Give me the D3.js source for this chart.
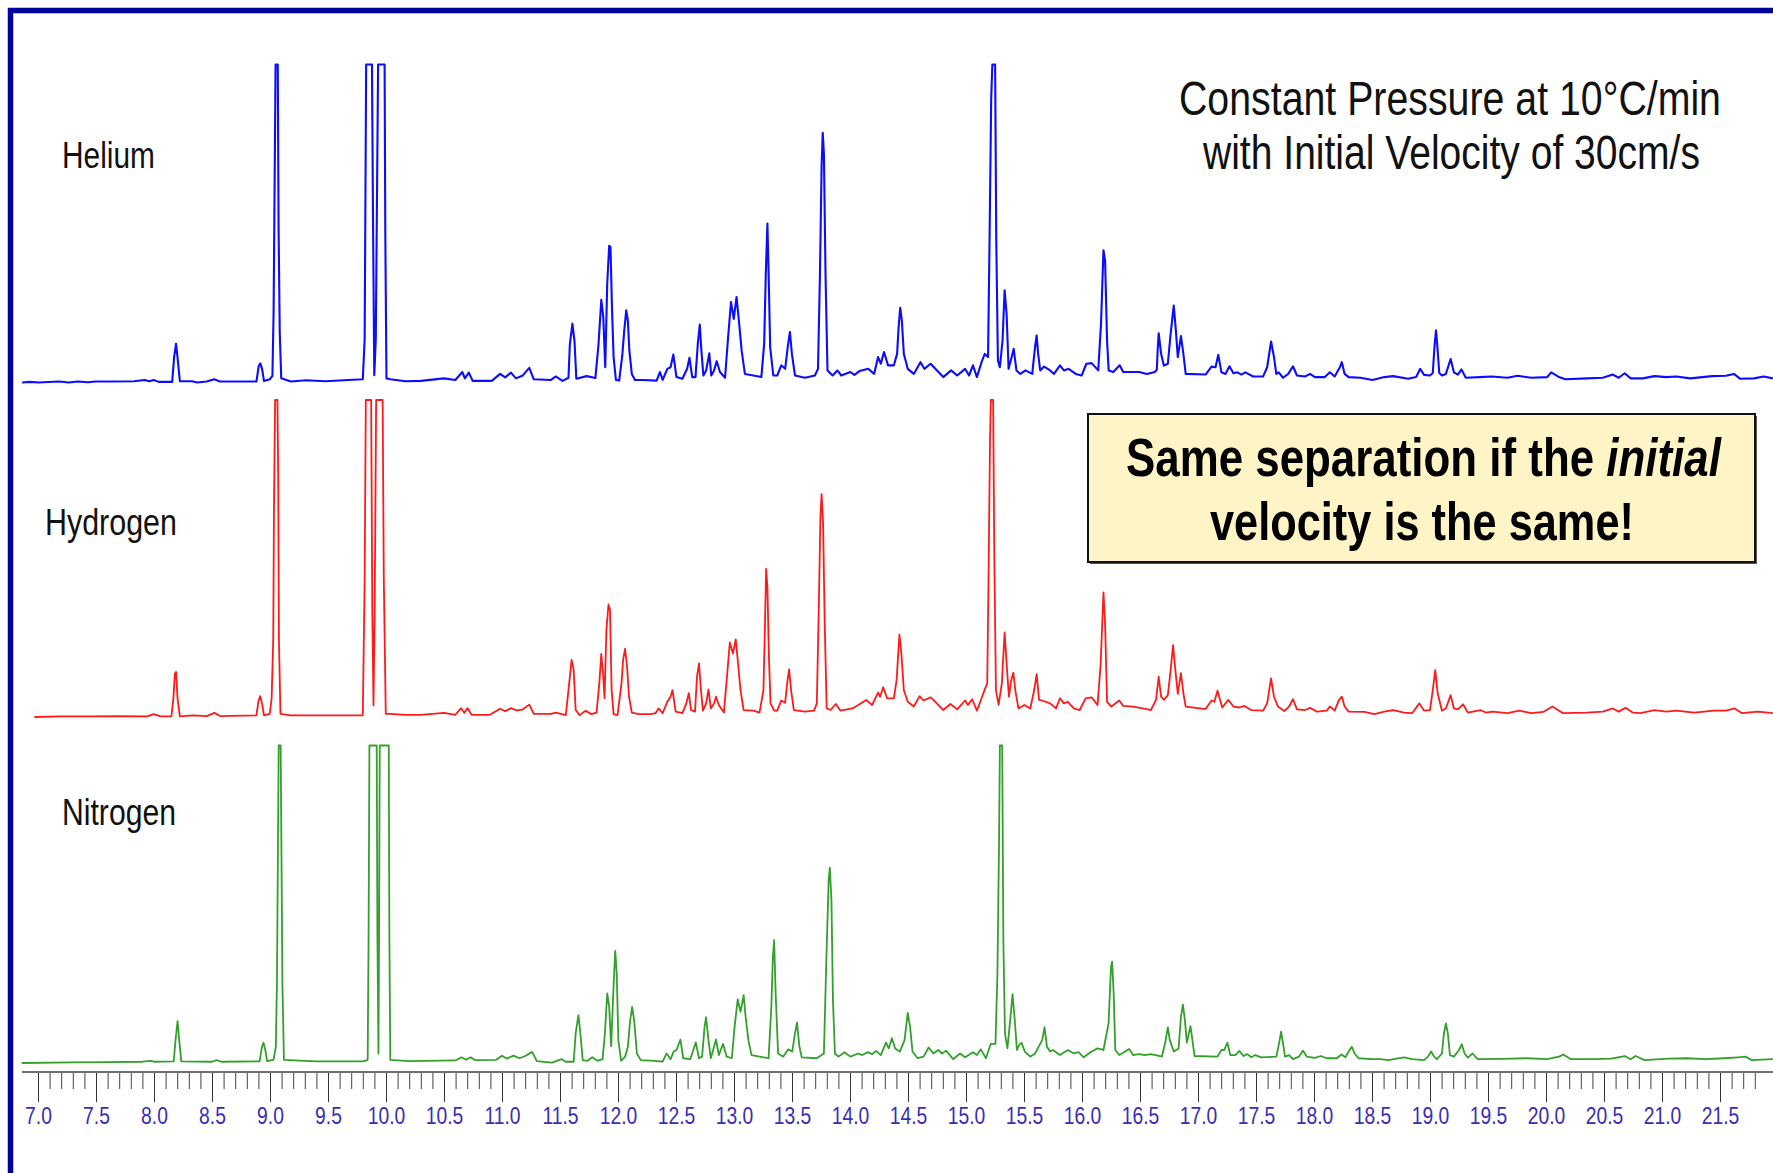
<!DOCTYPE html>
<html>
<head>
<meta charset="utf-8">
<script src="https://cdn.jsdelivr.net/npm/d3@7"></script>
<style>
  html, body { margin: 0; padding: 0; background: #fff; }
  svg { display: block; }
  text { font-family: "Liberation Sans Narrow", "Arial Narrow", "Liberation Sans", Arial, sans-serif; }
</style>
</head>
<body>
<div id="chart"></div>
<script>
// retention time (min), detector response (% of the clipped full scale)
const heliumTrace = [
  [6.863,0],[6.93,0.2],[7.002,0],[7.183,0.3],[7.266,0],[7.342,0.3],[7.431,0.1],[7.497,0.3],[7.662,0.3],[7.827,0.4],[7.919,0.8],[7.959,0.4],[7.998,0.8],[8.041,0.2],
  [8.157,0.2],[8.173,7.8],[8.19,12.2],[8.203,7.8],[8.223,0.4],[8.328,0.4],[8.371,0],[8.454,0.3],[8.52,1],[8.569,0.3],
  [8.883,0.3],[8.903,5.2],[8.916,6],[8.932,4.2],[8.948,0.5],[8.998,1],[9.021,2.1],[9.031,22],[9.041,68],[9.048,100],[9.067,100],[9.074,48.7],[9.084,15.7],[9.097,1.3],
  [9.18,0.3],[9.311,0.7],[9.476,0.4],[9.8,1],[9.816,13.6],[9.829,100],[9.879,100],[9.889,47],[9.899,2.3],[9.912,13.6],[9.932,100],[9.988,100],[9.994,47],[10.004,1.3],
  [10.037,1],[10.169,0.4],[10.301,0.5],[10.5,1.3],[10.598,0.8],[10.658,3.3],[10.68,1.3],[10.714,3.1],[10.747,0.5],[10.912,0.5],[10.984,2.7],[11.027,1.6],[11.077,3.1],
  [11.12,1.3],[11.175,2.1],[11.235,4.6],[11.274,1],[11.423,0.8],[11.463,1.9],[11.522,0.5],[11.573,1.5],[11.585,12],[11.607,18.5],[11.625,13],[11.641,1.2],
  [11.73,2],[11.805,1.4],[11.832,12],[11.856,26],[11.873,20.6],[11.89,4.8],[11.907,31],[11.924,43],[11.935,42.6],[11.948,23.7],[11.962,8],[11.982,0.8],
  [12.01,0.6],[12.037,8.5],[12.054,16.4],[12.071,22.7],[12.085,19.5],[12.098,10],[12.119,2.7],[12.146,0.8],[12.214,0.8],[12.333,0.6],[12.361,3.3],[12.385,0.8],
  [12.425,4.3],[12.453,4.8],[12.477,8.8],[12.504,1.7],[12.555,1.2],[12.596,4.3],[12.616,7.8],[12.64,1.7],[12.668,1.7],[12.688,12.2],[12.705,18.2],[12.719,10],
  [12.736,2.2],[12.76,3.8],[12.787,9.2],[12.804,2.2],[12.828,3.8],[12.851,6.7],[12.879,3.3],[12.923,1.5],[12.947,13.2],[12.974,25.3],[12.998,20],[13.022,26.9],
  [13.042,19.5],[13.066,10],[13.094,2.7],[13.168,2.2],[13.236,1.7],[13.26,12.2],[13.274,34],[13.288,50],[13.298,35],[13.312,11],[13.339,2.2],[13.373,2.2],
  [13.407,5.4],[13.441,4.3],[13.465,11.7],[13.482,15.9],[13.499,9],[13.526,2.2],[13.612,1.5],[13.697,2.2],[13.724,4.3],[13.741,34],[13.755,67.8],[13.765,78.5],
  [13.775,72],[13.789,34],[13.806,3.8],[13.85,2.2],[13.891,3.8],[13.925,2.2],[14.003,3.3],[14.038,2.4],[14.082,3.6],[14.157,4.3],[14.208,2.7],[14.242,8],
  [14.266,5.9],[14.293,9.6],[14.328,5.4],[14.378,5.4],[14.406,9],[14.419,17.4],[14.433,23.5],[14.447,19.5],[14.464,9],[14.498,4.3],[14.55,2.7],[14.607,6.4],
  [14.641,4.3],[14.695,5.9],[14.736,4.3],[14.804,1.7],[14.872,3.8],[14.924,2.2],[14.992,4.3],[15.026,2.2],[15.06,5.4],[15.094,1.7],[15.139,6.9],[15.162,9],
  [15.19,8],[15.203,44.7],[15.217,88.8],[15.227,100],[15.251,100],[15.261,44.7],[15.275,6.9],[15.292,4.8],[15.315,13.2],[15.333,29],[15.35,21.6],[15.367,4.3],
  [15.394,8],[15.411,10.6],[15.435,3.8],[15.469,2.7],[15.513,3.8],[15.571,2.7],[15.595,11.1],[15.609,14.8],[15.622,9],[15.64,3.8],[15.673,5],[15.725,3.8],
  [15.759,2.7],[15.81,5.4],[15.844,3.8],[15.885,4.3],[15.946,2.7],[15.997,2.2],[16.038,5.9],[16.083,6.1],[16.14,3.8],[16.164,18.5],[16.185,41.6],[16.199,38.4],
  [16.216,13.2],[16.23,3.8],[16.27,3.3],[16.325,5.4],[16.355,3.3],[16.423,3.3],[16.492,3.3],[16.56,2.7],[16.628,3.3],[16.645,4],[16.652,10],[16.661,15.5],
  [16.682,9],[16.706,5.3],[16.74,5.9],[16.764,15.3],[16.791,24.2],[16.809,16.4],[16.826,8],[16.853,14.6],[16.874,9],[16.894,2.7],[17.065,2.5],[17.117,5],
  [17.151,4.8],[17.175,8.7],[17.202,3.2],[17.237,2.7],[17.271,5.1],[17.305,2.9],[17.339,3.2],[17.374,2.5],[17.408,3.2],[17.476,1.9],[17.562,1.9],[17.596,4.8],
  [17.63,12.9],[17.655,8],[17.675,2.7],[17.695,3.2],[17.733,1.5],[17.778,2.7],[17.819,5.1],[17.853,2.2],[17.922,1.9],[17.966,2.7],[18.007,1.7],[18.093,1.7],
  [18.137,3.2],[18.178,1.9],[18.223,4.8],[18.24,6.4],[18.264,2.7],[18.298,1.7],[18.401,1.5],[18.504,0.8],[18.606,1.7],[18.682,2],[18.812,1.2],[18.88,1.7],
  [18.915,4.3],[18.949,2.4],[19.0,2.2],[19.024,3],[19.04,12],[19.052,16.4],[19.062,12],[19.08,3],[19.103,2.2],[19.137,2.7],[19.178,7.4],[19.206,3.2],
  [19.24,2.5],[19.271,4.1],[19.309,1.5],[19.428,1.7],[19.531,1.9],[19.668,1.5],[19.754,2.1],[19.874,1.5],[20.01,1.7],[20.045,3.2],[20.113,1.7],[20.165,1],
  [20.353,1.3],[20.49,1.5],[20.576,2.5],[20.627,1.5],[20.678,2.9],[20.73,1.3],[20.833,1.3],[20.935,2],[21.038,1.7],[21.124,1.9],[21.244,1.3],[21.432,2],
  [21.552,2.1],[21.62,2.7],[21.672,1.2],[21.792,1.3],[21.877,1.9],[21.956,1.3]
];

const hydrogenTrace = [
  [6.969,0],[7.2,0.2],[7.464,0.2],[7.695,0.3],[7.942,0.2],[7.998,0.9],[8.058,0.2],[8.15,0.2],[8.167,5.8],[8.18,13.7],[8.19,14.2],[8.203,5.8],[8.223,0.2],
  [8.338,0.5],[8.454,0.3],[8.52,1.3],[8.569,0.3],[8.883,0.5],[8.899,4.7],[8.915,6.6],[8.932,4.2],[8.948,0.5],[8.998,1],[9.014,5.8],[9.028,24.7],[9.034,64.6],
  [9.044,100],[9.064,100],[9.071,75],[9.077,24.7],[9.09,1],[9.18,0.5],[9.311,0.5],[9.476,0.5],[9.8,0.5],[9.816,43.6],[9.826,100],[9.872,100],[9.882,33],
  [9.892,3.7],[9.902,33],[9.915,100],[9.971,100],[9.981,43.6],[9.998,1],[10.037,1],[10.169,0.7],[10.3,0.7],[10.5,1.3],[10.598,0.7],[10.648,2.8],[10.674,1.3],
  [10.704,2.8],[10.737,0.7],[10.895,0.7],[10.984,2.6],[11.027,1.8],[11.077,2.8],[11.126,2.1],[11.175,2.3],[11.235,3.9],[11.274,1],[11.423,1],[11.464,1.4],
  [11.55,0.6],[11.573,8.5],[11.6,18],[11.618,14.8],[11.635,2.2],[11.669,0.6],[11.72,2],[11.771,0.9],[11.815,1.4],[11.839,10.6],[11.856,19.9],[11.873,12.7],
  [11.884,5.9],[11.9,27.4],[11.918,35.5],[11.931,33.8],[11.945,8.5],[11.962,0.9],[11.996,0.6],[12.03,10.6],[12.044,18],[12.061,21.5],[12.078,15.9],[12.095,6.4],
  [12.119,1.4],[12.18,0.9],[12.282,0.9],[12.323,1.2],[12.35,2.7],[12.385,1.2],[12.425,4.8],[12.453,6.4],[12.47,8.5],[12.497,1.7],[12.555,1.2],[12.589,4.3],
  [12.61,7.5],[12.63,2.2],[12.664,1.7],[12.681,12.7],[12.698,16.9],[12.715,8.5],[12.732,2],[12.76,4.3],[12.78,8.7],[12.8,2.7],[12.828,4.3],[12.845,6.4],
  [12.869,3.8],[12.913,1.4],[12.937,11.7],[12.964,23.5],[12.991,20],[13.015,24.5],[13.032,18],[13.056,8.5],[13.083,2.2],[13.168,2],[13.22,1.4],[13.254,8.5],
  [13.267,29.5],[13.277,46.7],[13.288,41],[13.301,19],[13.315,4.3],[13.346,2],[13.373,2],[13.407,5.2],[13.441,4.5],[13.458,10.6],[13.475,15],[13.492,8.5],
  [13.516,2.2],[13.612,1.7],[13.69,2],[13.714,4.3],[13.731,34.8],[13.745,63.2],[13.755,70.3],[13.768,61],[13.782,29.5],[13.799,2.7],[13.833,2.2],[13.877,4.1],
  [13.918,2],[14.021,2.7],[14.072,3.8],[14.14,5.4],[14.191,3.8],[14.242,7.7],[14.259,6.4],[14.286,9.4],[14.32,5.9],[14.378,5.9],[14.402,11.7],[14.426,26],
  [14.443,20],[14.464,8.5],[14.498,4.8],[14.55,3.3],[14.6,6.6],[14.634,5.2],[14.695,6.2],[14.736,4.8],[14.804,2.2],[14.866,4.1],[14.924,2.4],[14.992,5.2],
  [15.016,3.8],[15.053,5.6],[15.094,2],[15.139,6.4],[15.162,8.7],[15.183,10.6],[15.193,40],[15.207,87.4],[15.214,100],[15.234,100],[15.244,50.6],[15.258,8.5],
  [15.281,3.8],[15.309,10.6],[15.333,26.7],[15.35,16.9],[15.37,6.4],[15.39,11.7],[15.408,14],[15.425,8.5],[15.452,2.7],[15.503,3.8],[15.554,2.7],[15.588,8.5],
  [15.609,13.5],[15.63,5.4],[15.657,5.2],[15.725,4.3],[15.776,2.7],[15.81,5.9],[15.844,4.3],[15.878,4.8],[15.929,2.7],[15.98,2.2],[16.031,5.9],[16.083,6.2],
  [16.134,3.8],[16.161,16.9],[16.185,39.3],[16.199,29.5],[16.216,4.8],[16.253,3.3],[16.321,5.2],[16.355,3.5],[16.44,3.3],[16.526,2.7],[16.594,2.2],[16.638,5.4],
  [16.661,12.7],[16.682,6.4],[16.706,5.4],[16.74,6.9],[16.764,14.8],[16.785,22.7],[16.805,14.8],[16.826,7.3],[16.853,13.8],[16.874,7.5],[16.894,3.3],[17.065,2.5],
  [17.117,5.2],[17.141,4.8],[17.168,8.3],[17.209,3],[17.261,5.4],[17.305,3.3],[17.357,3],[17.401,3.5],[17.459,2.2],[17.562,2],[17.596,4.3],[17.63,12.2],
  [17.655,6.4],[17.689,3.3],[17.744,1.9],[17.785,3.3],[17.819,5.6],[17.853,2.4],[17.922,2.2],[17.966,2.9],[18.024,1.7],[18.11,2],[18.137,3.3],[18.178,2],
  [18.216,5.4],[18.24,6.4],[18.264,3.3],[18.298,1.7],[18.435,1.6],[18.521,0.9],[18.606,1.7],[18.682,2.2],[18.777,1.4],[18.846,1.2],[18.908,4.3],[18.949,2],
  [19.0,2.2],[19.024,8.5],[19.045,14.8],[19.066,7.5],[19.103,2],[19.137,2.7],[19.178,6.9],[19.206,2.7],[19.24,2.4],[19.285,4],[19.326,1.4],[19.435,2.2],
  [19.48,1.4],[19.538,1.7],[19.668,1.2],[19.771,2],[19.874,1.2],[19.976,1.6],[20.055,3.3],[20.148,1.2],[20.353,1.4],[20.49,1.7],[20.576,2.7],[20.627,1.7],
  [20.686,2.9],[20.747,1.4],[20.815,1.2],[20.935,2.2],[21.038,1.7],[21.124,2],[21.278,1.4],[21.449,2],[21.552,2],[21.627,2.7],[21.689,1.2],[21.826,1.7],
  [21.956,1.2]
];

const nitrogenTrace = [
  [6.86,0],[7.3,0.2],[7.6,0.3],[7.9,0.4],[7.969,0.7],[8.0,0.4],[8.17,0.5],[8.185,7],[8.203,13.2],[8.218,7],[8.235,0.5],[8.5,0.4],[8.54,0.9],[8.58,0.4],
  [8.91,0.5],[8.93,5],[8.944,6.4],[8.96,4],[8.975,0.6],[9.03,1],[9.05,5],[9.06,25],[9.068,65],[9.075,100],[9.092,100],[9.099,65],[9.107,25],[9.12,1],
  [9.4,0.5],[9.8,0.5],[9.842,1],[9.85,40],[9.857,100],[9.92,100],[9.926,40],[9.935,3],[9.94,40],[9.946,100],[10.024,100],[10.029,40],[10.037,1],
  [10.2,0.6],[10.6,0.8],[10.65,1.8],[10.69,1],[10.73,1.8],[10.77,0.9],[10.95,1],[11.0,2.3],[11.04,1.4],[11.1,2.3],[11.15,1.5],[11.2,2.2],[11.26,3.5],[11.3,0.6],
  [11.43,0.1],[11.515,1.2],[11.55,0.4],[11.618,0.4],[11.635,9.3],[11.659,15.1],[11.676,9.3],[11.696,0.9],[11.737,0.7],[11.778,1.8],[11.822,0.7],[11.867,1.2],
  [11.887,9.3],[11.907,21.9],[11.924,17.7],[11.941,5.3],[11.959,21.9],[11.976,35.3],[11.989,28.2],[12.003,7.2],[12.027,0.7],[12.061,2],[12.085,5.1],[12.105,13.5],
  [12.122,17.7],[12.139,13.5],[12.163,3],[12.197,0.9],[12.316,0.7],[12.385,0.4],[12.419,3],[12.453,1.2],[12.48,3.6],[12.504,4.1],[12.538,7.4],[12.562,1.5],
  [12.623,1.2],[12.671,6.5],[12.698,1.5],[12.725,2],[12.746,11.4],[12.759,14.4],[12.78,7.2],[12.8,1.5],[12.828,5.1],[12.845,7.4],[12.869,2.5],[12.906,6],
  [12.937,2],[12.981,1.5],[13.005,11.4],[13.032,20],[13.056,16.1],[13.083,21.4],[13.1,14.6],[13.124,7.2],[13.151,2.5],[13.22,2],[13.298,1.5],[13.322,17.7],
  [13.335,33.4],[13.346,38.7],[13.359,21.9],[13.38,3],[13.424,2],[13.468,4.3],[13.502,3.6],[13.526,9.3],[13.543,12.7],[13.564,5.1],[13.584,1.8],[13.714,1.5],
  [13.775,3],[13.796,32.4],[13.816,57.5],[13.826,61.5],[13.84,51.3],[13.853,19.8],[13.87,3],[13.901,2],[13.952,3.4],[14.003,2],[14.072,3],[14.106,2.5],
  [14.15,3.4],[14.191,2.8],[14.225,3.8],[14.266,2.5],[14.31,6.4],[14.334,4.6],[14.361,7.8],[14.389,4.6],[14.43,3.6],[14.47,7.2],[14.498,15.8],[14.518,11.4],
  [14.539,3.6],[14.583,1.5],[14.634,2],[14.678,4.9],[14.719,3],[14.76,4.1],[14.794,3],[14.828,3.9],[14.89,1.2],[14.948,3],[14.992,1.8],[15.06,3.4],
  [15.094,2.5],[15.128,4.3],[15.172,1.5],[15.213,6],[15.254,6],[15.271,28.2],[15.285,70],[15.292,100],[15.312,100],[15.322,38.7],[15.336,9.3],[15.357,4.6],
  [15.384,14.6],[15.401,21.7],[15.418,14.6],[15.439,4.1],[15.459,5.7],[15.479,6.4],[15.507,3.6],[15.554,2],[15.595,3],[15.657,7.2],[15.677,11.2],[15.698,5.1],
  [15.725,3.6],[15.749,4.1],[15.81,2.5],[15.878,4.1],[15.929,3],[15.97,3.4],[16.014,1.8],[16.083,3.6],[16.134,4.6],[16.185,4.1],[16.229,12.5],[16.25,30.3],
  [16.26,31.9],[16.273,21.9],[16.287,4.1],[16.321,2.5],[16.355,3.2],[16.406,4.4],[16.44,2.5],[16.492,2.8],[16.543,2.5],[16.594,2.8],[16.672,2.2],[16.689,2],
  [16.716,6.2],[16.74,11.2],[16.757,7.2],[16.791,3.6],[16.833,4.6],[16.853,14.6],[16.87,18.4],[16.887,13.5],[16.904,6.4],[16.935,11.6],[16.952,7.2],[16.97,2.2],
  [17.168,2],[17.202,4.1],[17.226,4.1],[17.254,6.4],[17.278,2.5],[17.322,2.5],[17.357,3.8],[17.391,2.2],[17.425,2.8],[17.459,1.8],[17.494,2.5],[17.545,1.8],
  [17.675,2],[17.699,6.2],[17.716,9.9],[17.733,6.2],[17.75,2],[17.785,2.5],[17.819,1.2],[17.87,2],[17.904,3.9],[17.939,2],[18.007,1.6],[18.059,2.2],
  [18.11,1.5],[18.196,1.5],[18.237,2.7],[18.271,1.8],[18.298,3.6],[18.326,5.1],[18.35,3],[18.384,1.5],[18.504,1.2],[18.572,1.2],[18.641,0.9],[18.709,1.4],
  [18.778,1.8],[18.846,1.2],[18.949,0.9],[18.983,2],[19.01,3.6],[19.035,2],[19.059,1.2],[19.103,3],[19.12,9.3],[19.137,12.5],[19.154,9.3],[19.172,2.5],
  [19.206,2],[19.25,4.1],[19.274,5.9],[19.298,3],[19.326,1.7],[19.367,3],[19.411,1.2],[19.627,1.3],[19.839,1.5],[20.01,1.2],[20.113,2],[20.148,2.7],
  [20.216,1.2],[20.422,1.2],[20.559,1.4],[20.679,2.2],[20.73,1.2],[20.771,2.2],[20.85,0.9],[21.055,1.4],[21.216,1.5],[21.38,1.2],[21.535,1.5],[21.655,1.8],
  [21.723,2],[21.774,0.9],[21.956,1.2]
];

const gasNames = ["Helium", "Hydrogen", "Nitrogen"];
const majorTicks = [7.0, 7.5, 8.0, 8.5, 9.0, 9.5, 10.0, 10.5, 11.0, 11.5, 12.0, 12.5, 13.0, 13.5, 14.0,
  14.5, 15.0, 15.5, 16.0, 16.5, 17.0, 17.5, 18.0, 18.5, 19.0, 19.5, 20.0, 20.5, 21.0, 21.5];
const titleLines = ["Constant Pressure at 10\u00b0C/min", "with Initial Velocity of 30cm/s"];

const W = 1773, H = 1173;
const svg = d3.select("#chart").append("svg").attr("width", W).attr("height", H);

const x = d3.scaleLinear().domain([7, 21.5]).range([38, 1720]);

// squeeze a text horizontally so it spans the given width (no narrow face installed)
function squeeze(sel, px, py, width) {
  const w = sel.node().getComputedTextLength();
  sel.attr("x", 0).attr("y", 0)
    .attr("transform", `translate(${px},${py}) scale(${width / w},1)`);
  return sel;
}

// one stacked panel per carrier gas
const panels = [
  { data: heliumTrace, color: "#0c0cff", base: 382.5, top: 64.5, lx: 62, ly: 168, lw: 93, sw: 2.1 },
  { data: hydrogenTrace, color: "#ff1a1a", base: 717, top: 400, lx: 45, ly: 535, lw: 132, sw: 1.8 },
  { data: nitrogenTrace, color: "#33a02c", base: 1063, top: 745.5, lx: 62, ly: 825, lw: 114, sw: 1.8 }
];

panels.forEach((p, i) => {
  const y = d3.scaleLinear().domain([0, 100]).range([p.base, p.top]);
  const line = d3.line().x(d => x(d[0])).y(d => y(d[1]));
  svg.append("path")
    .datum(d3.sort(p.data, d => d[0]))
    .attr("d", line)
    .attr("fill", "none")
    .attr("stroke", p.color)
    .attr("stroke-width", p.sw)
    .attr("stroke-linejoin", "round");

  const t = svg.append("text")
    .attr("font-size", 37)
    .attr("fill", "#111")
    .text(gasNames[i]);
  squeeze(t, p.lx, p.ly, p.lw);
});

//time axis
const axisY = 1072;
const axisG = svg.append("g").attr("transform", `translate(0,${axisY})`);
const minorTicks = d3.range(70, 219).map(v => v / 10);

axisG.append("g")
  .call(d3.axisBottom(x).tickValues(minorTicks).tickSize(17).tickFormat(""))
  .call(g => g.select(".domain").remove())
  .call(g => g.selectAll(".tick line").attr("stroke", "#444").attr("stroke-width", 1));

axisG.append("g")
  .call(d3.axisBottom(x).tickValues(majorTicks).tickSize(30).tickPadding(6).tickFormat(d3.format(".1f")))
  .call(g => g.select(".domain").remove())
  .call(g => g.selectAll(".tick line").attr("stroke", "#333").attr("stroke-width", 1))
  .call(g => g.selectAll(".tick text")
    .attr("font-family", '"Liberation Sans Narrow", "Arial Narrow", "Liberation Sans", sans-serif')
    .attr("font-size", 23)
    .attr("fill", "#3a2db5")
    .attr("transform", "scale(0.84,1)"));

axisG.append("line")
  .attr("x1", 22).attr("x2", W)
  .attr("y1", 0).attr("y2", 0)
  .attr("stroke", "#707070")
  .attr("stroke-width", 2);

// title, top right
const title = svg.append("g");
squeeze(title.append("text").attr("font-size", 48).attr("fill", "#111").text(titleLines[0]), 1179, 115, 542);
squeeze(title.append("text").attr("font-size", 48).attr("fill", "#111").text(titleLines[1]), 1203, 169, 497);

// callout box
const box = svg.append("g");
box.append("rect")
  .attr("x", 1090).attr("y", 416).attr("width", 667).attr("height", 148)
  .attr("fill", "#555");
box.append("rect")
  .attr("x", 1088).attr("y", 414).attr("width", 667).attr("height", 148)
  .attr("fill", "#fff4c6").attr("stroke", "#111").attr("stroke-width", 2);

const line1 = box.append("text")
  .attr("font-size", 54).attr("font-weight", "bold").attr("fill", "#000");
line1.append("tspan").text("Same separation if the ");
line1.append("tspan").attr("font-style", "italic").text("initial");
squeeze(line1, 1126, 476, 595);

squeeze(box.append("text")
  .attr("font-size", 54).attr("font-weight", "bold").attr("fill", "#000")
  .text("velocity is the same!"), 1210, 540, 424);

// frame
svg.append("path")
  .attr("d", `M10.5,${H} V10.5 H${W}`)
  .attr("fill", "none")
  .attr("stroke", "#00009c")
  .attr("stroke-width", 5.5);
</script>
</body>
</html>
